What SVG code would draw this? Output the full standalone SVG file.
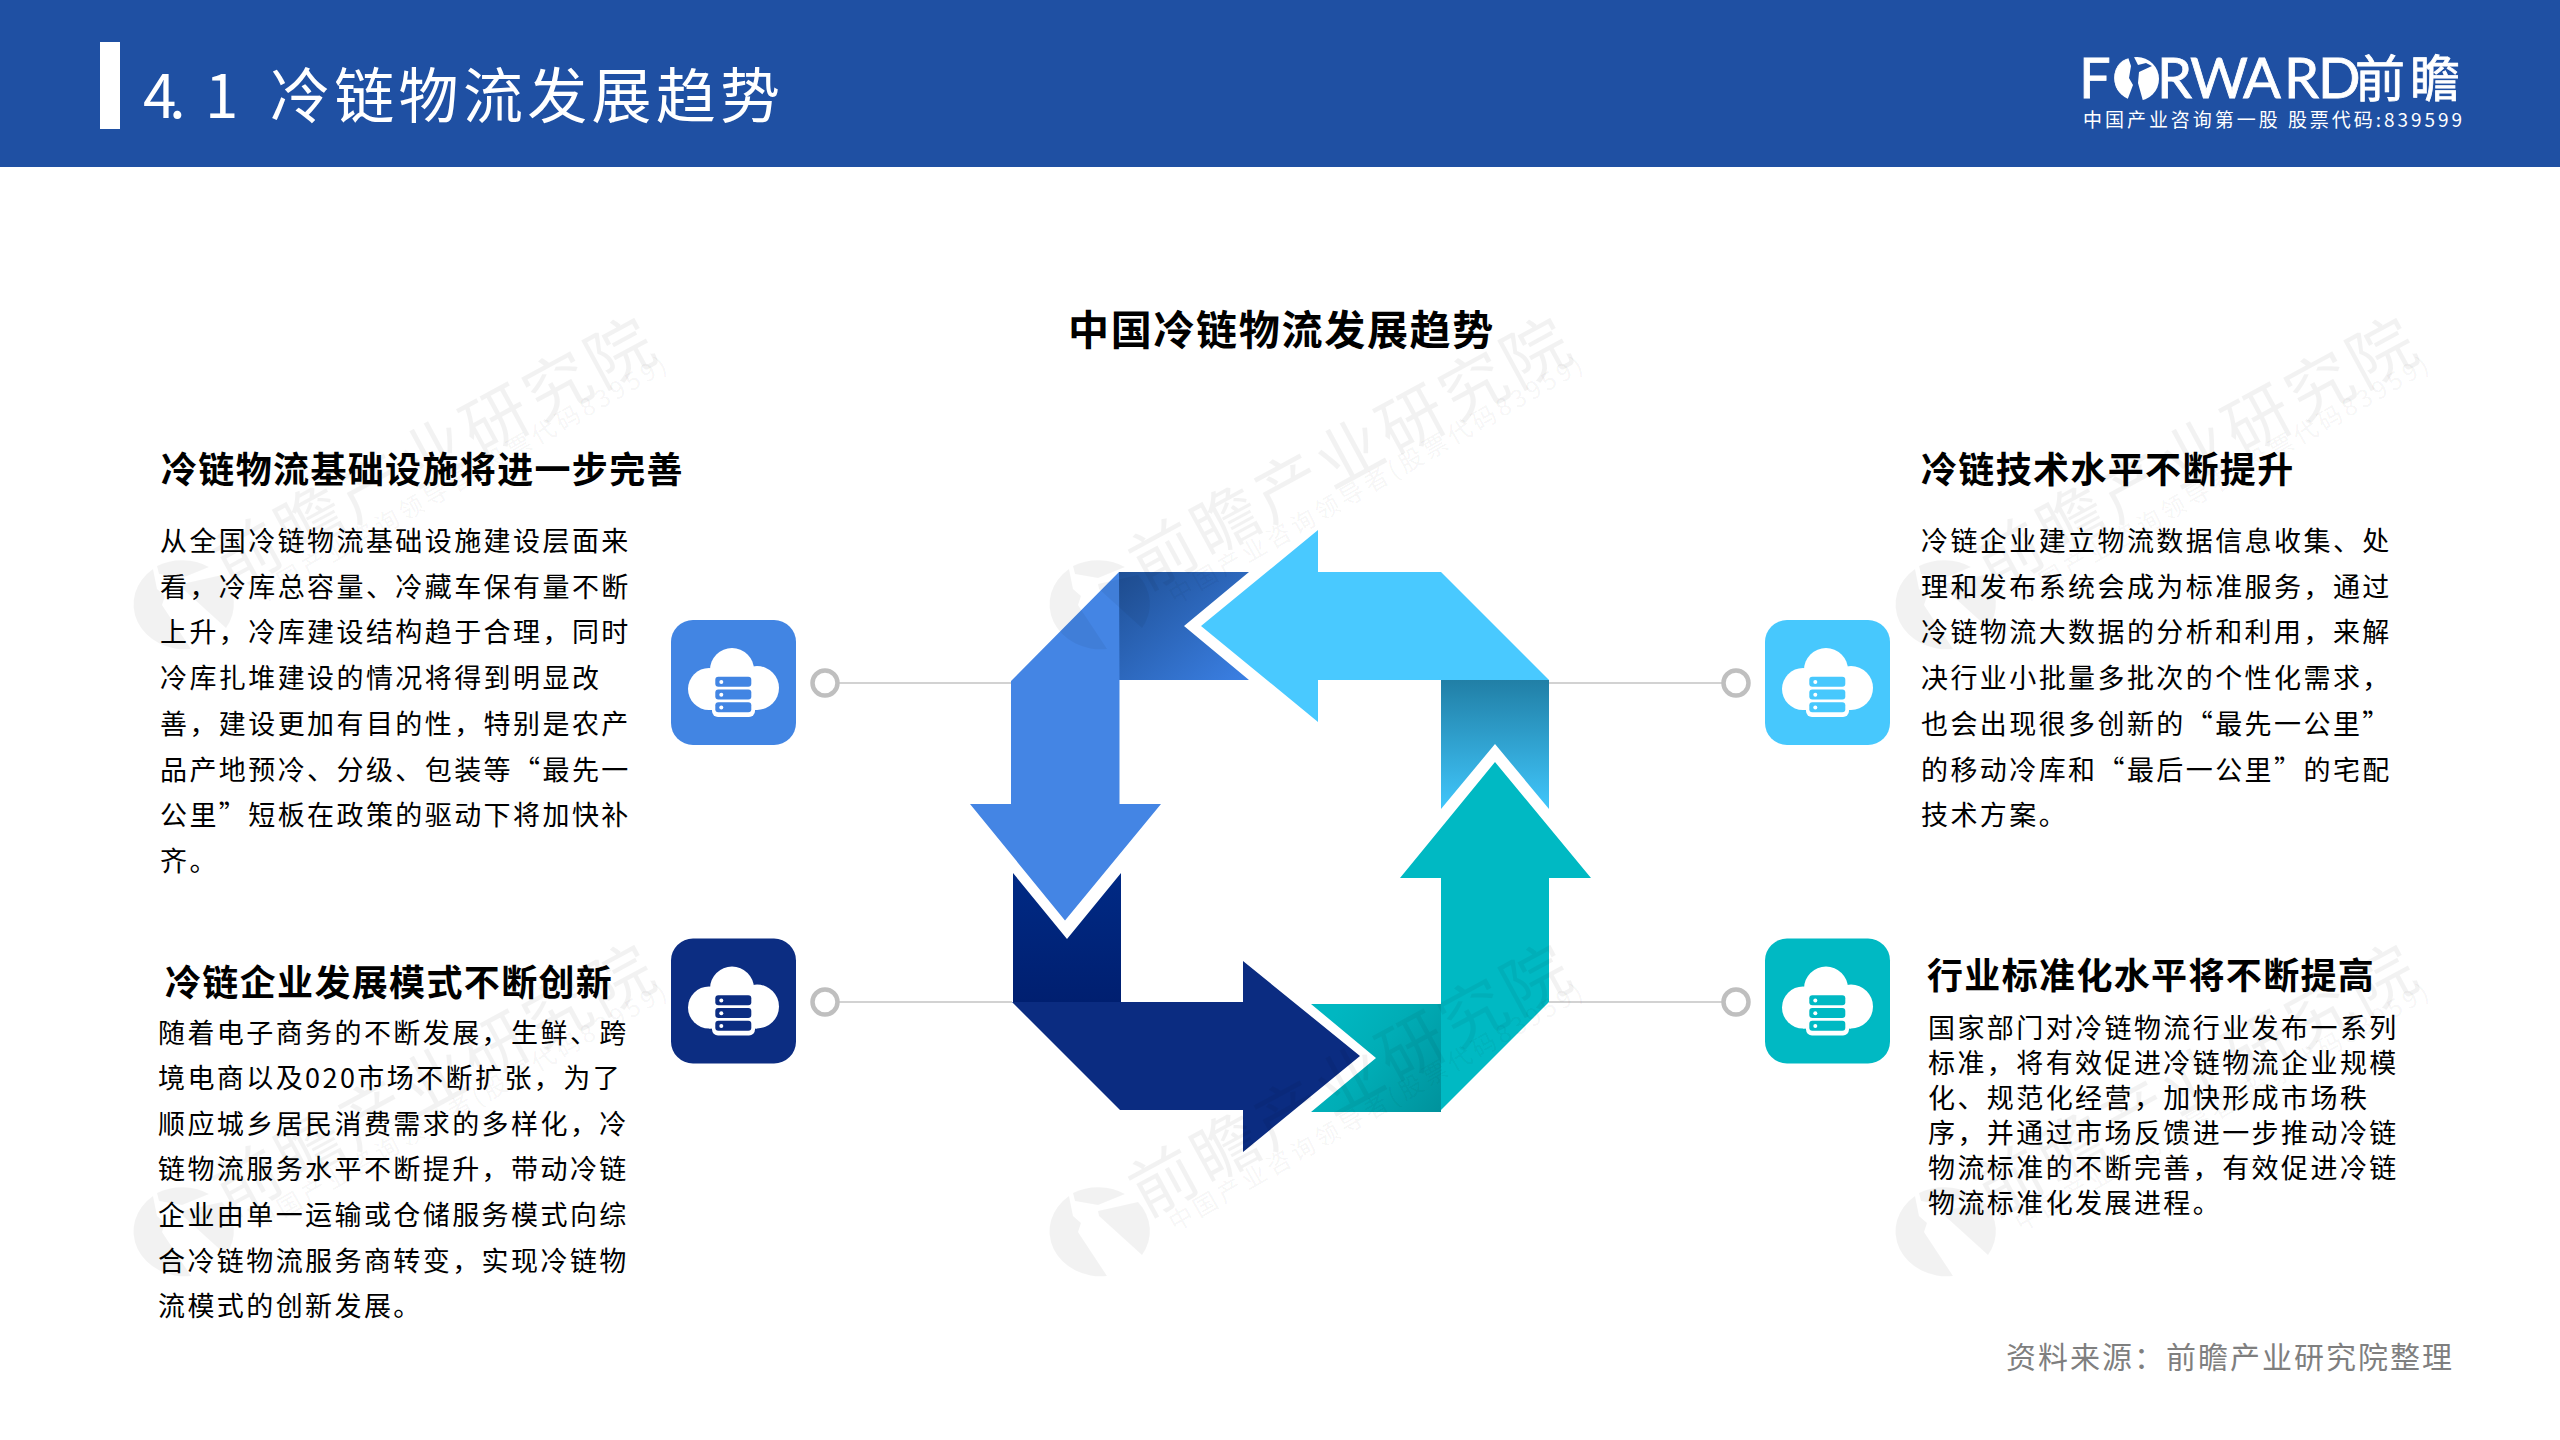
<svg xmlns="http://www.w3.org/2000/svg" width="2560" height="1440" viewBox="0 0 2560 1440">
<style>
text{font-family:"Noto Sans CJK SC","Liberation Sans",sans-serif;fill:#000}
.h{font-size:36px;font-weight:700;letter-spacing:1.35px}
.b{font-size:27px;letter-spacing:2.42px}
.wm *{fill:#000;fill-opacity:.05}
.line{stroke:#d2d2d2;stroke-width:2;fill:none}
.dot{fill:#fff;stroke:#bfbfbf;stroke-width:4.5}
</style>
<defs>
<linearGradient id="gTL" x1="0" y1="0" x2="1" y2="1"><stop offset="0" stop-color="#1f5096"/><stop offset="1" stop-color="#3b80e4"/></linearGradient>
<linearGradient id="gTR" x1="0" y1="0" x2="0" y2="1"><stop offset="0" stop-color="#217fa6"/><stop offset="1" stop-color="#40c6fb"/></linearGradient>
<linearGradient id="gBL" x1="0" y1="0" x2="0" y2="1"><stop offset="0" stop-color="#002a85"/><stop offset="1" stop-color="#001f70"/></linearGradient>
<linearGradient id="gBR" x1="1" y1="1" x2="0" y2="0.4"><stop offset="0" stop-color="#00929c"/><stop offset="0.6" stop-color="#00adb6"/><stop offset="1" stop-color="#00b7c1"/></linearGradient>
<g id="cloud">
<rect width="125" height="125" rx="22" fill="currentColor"/>
<g fill="#fff"><circle cx="61" cy="50" r="22"/><circle cx="38" cy="69" r="21"/><circle cx="86" cy="68" r="22"/><rect x="38" y="50" width="48" height="40"/><rect x="41" y="55" width="43" height="42" rx="6"/></g>
<g fill="currentColor"><rect x="44.3" y="56.7" width="36" height="10" rx="3"/><rect x="44.3" y="69.4" width="36" height="10" rx="3"/><rect x="44.3" y="82.3" width="36" height="10" rx="3"/></g>
<g fill="#fff"><circle cx="50.3" cy="62" r="2"/><circle cx="50.3" cy="74.7" r="2"/><circle cx="50.3" cy="87.5" r="2"/></g>
</g>
<g id="wmark" class="wm">
<path d="M-29,-36A51,45 0 0 0 9,44L-20,0-17,-9-25,-16Z"/>
<path d="M-25,-39A51,45 0 0 1 27,-38L0,-27-23,-31Z"/>
<path d="M40,-30A51,45 0 0 1 44,23L1,-16 0,-21Z"/>
<text transform="translate(48,-14) rotate(-28.5)" font-size="66" letter-spacing="4.5">前瞻产业研究院</text>
<text transform="translate(77,0) rotate(-29.8)" font-size="24" textLength="472" lengthAdjust="spacing">中国产业咨询领导者(股票代码83959)</text>
</g>
</defs>
<rect width="2560" height="1440" fill="#fff"/>
<g id="header">
<rect width="2560" height="167" fill="#1f50a3"/>
<rect x="100" y="42" width="20" height="87" fill="#fff"/>
<text y="118" font-size="60" letter-spacing="4.3" style="fill:#fff"><tspan x="143">4</tspan><tspan x="169">.</tspan><tspan x="205">1 </tspan><tspan x="270">冷链物流发展趋势</tspan></text>
</g>
<g id="logo">
<text y="98" style="fill:#fff;stroke:#fff;stroke-width:.8;font-family:Lato,'Noto Sans CJK SC',sans-serif" font-size="56"><tspan x="2079">F</tspan><tspan x="2112">O</tspan><tspan x="2157">R</tspan><tspan x="2190">W</tspan><tspan x="2243">A</tspan><tspan x="2284">R</tspan><tspan x="2318">D</tspan><tspan x="2355" y="97" font-size="50" letter-spacing="5">前瞻</tspan></text>
<circle cx="2137" cy="79" r="22" fill="#fff"/>
<path d="M2128,57L2131,66 2129,78 2133,85 2127,101 2143,101 2138,83 2139,72 2152,66 2146,63 2138,65 2134,57Z" fill="#1f50a3"/>
<text x="2083" y="127" font-size="19" textLength="379" lengthAdjust="spacing" style="fill:#fff">中国产业咨询第一股 股票代码:839599</text>
</g>
<text id="main-title" x="1068" y="345" font-size="41" font-weight="700" letter-spacing="1.7">中国冷链物流发展趋势</text>
<g id="connectors">
<path class="line" d="M838,683H1011M1549,683H1723M838,1002H1012M1549,1002H1723"/>
<circle class="dot" cx="825" cy="683" r="12.5"/>
<circle class="dot" cx="1736" cy="683" r="12.5"/>
<circle class="dot" cx="825" cy="1002" r="12.5"/>
<circle class="dot" cx="1736" cy="1002" r="12.5"/>
</g>
<g id="cycle">
<g id="arrow-cyan"><polygon points="1441,680 1549,680 1549,809 1495,744 1441,809" fill="url(#gTR)"/><polygon points="1201,626 1318,530 1318,572 1441,572 1549,680 1318,680 1318,722" fill="#49c9ff"/></g>
<g id="arrow-blue"><polygon points="1119,572 1249,572 1184,626 1249,680 1119,680" fill="url(#gTL)"/><polygon points="1119,572 1011,681 1011,804 970,804 1065,920.5 1161,804 1119.5,804 1119.5,680" fill="#4485e4"/></g>
<g id="arrow-navy"><polygon points="1013,873 1067,939 1121,873 1121,1002 1013,1002" fill="url(#gBL)"/><polygon points="1012,1002 1120,1110 1243,1110 1243,1152 1360,1056 1243,961 1243,1002" fill="#0b2c81"/></g>
<g id="arrow-teal"><polygon points="1311,1004 1441,1004 1441,1112 1311,1112 1376,1058" fill="url(#gBR)"/><polygon points="1495,762 1591,878 1549,878 1549,1002 1441,1110 1441,878 1400,878" fill="#00b9c3"/></g>
</g>
<g id="node-tl">
<use href="#cloud" x="671" y="620" style="color:#4285e3"/>
<text class="h" x="161" y="483">冷链物流基础设施将进一步完善</text>
<text class="b" x="160" y="551">从全国冷链物流基础设施建设层面来</text>
<text class="b" x="160" y="596.7">看，冷库总容量、冷藏车保有量不断</text>
<text class="b" x="160" y="642.4">上升，冷库建设结构趋于合理，同时</text>
<text class="b" x="160" y="688.1">冷库扎堆建设的情况将得到明显改</text>
<text class="b" x="160" y="733.8">善，建设更加有目的性，特别是农产</text>
<text class="b" x="160" y="779.5">品产地预冷、分级、包装等“最先一</text>
<text class="b" x="160" y="825.2">公里”短板在政策的驱动下将加快补</text>
<text class="b" x="160" y="870.9">齐。</text>
</g>
<g id="node-bl">
<use href="#cloud" x="671" y="938.5" style="color:#0c2d82"/>
<text class="h" x="165" y="996">冷链企业发展模式不断创新</text>
<text class="b" x="158" y="1042.5">随着电子商务的不断发展，生鲜、跨</text>
<text class="b" x="158" y="1088.1">境电商以及020市场不断扩张，为了</text>
<text class="b" x="158" y="1133.7">顺应城乡居民消费需求的多样化，冷</text>
<text class="b" x="158" y="1179.3">链物流服务水平不断提升，带动冷链</text>
<text class="b" x="158" y="1224.9">企业由单一运输或仓储服务模式向综</text>
<text class="b" x="158" y="1270.5">合冷链物流服务商转变，实现冷链物</text>
<text class="b" x="158" y="1316.1">流模式的创新发展。</text>
</g>
<g id="node-tr">
<use href="#cloud" x="1765" y="620" style="color:#47c8fd"/>
<text class="h" x="1921" y="483">冷链技术水平不断提升</text>
<text class="b" x="1921" y="551">冷链企业建立物流数据信息收集、处</text>
<text class="b" x="1921" y="596.7">理和发布系统会成为标准服务，通过</text>
<text class="b" x="1921" y="642.4">冷链物流大数据的分析和利用，来解</text>
<text class="b" x="1921" y="688.1">决行业小批量多批次的个性化需求，</text>
<text class="b" x="1921" y="733.8">也会出现很多创新的“最先一公里”</text>
<text class="b" x="1921" y="779.5">的移动冷库和“最后一公里”的宅配</text>
<text class="b" x="1921" y="825.2">技术方案。</text>
</g>
<g id="node-br">
<use href="#cloud" x="1765" y="938.5" style="color:#00b9c3"/>
<text class="h" x="1927" y="989">行业标准化水平将不断提高</text>
<text class="b" x="1928" y="1037.5">国家部门对冷链物流行业发布一系列</text>
<text class="b" x="1928" y="1072.5">标准，将有效促进冷链物流企业规模</text>
<text class="b" x="1928" y="1107.5">化、规范化经营，加快形成市场秩</text>
<text class="b" x="1928" y="1142.5">序，并通过市场反馈进一步推动冷链</text>
<text class="b" x="1928" y="1177.5">物流标准的不断完善，有效促进冷链</text>
<text class="b" x="1928" y="1212.5">物流标准化发展进程。</text>
</g>
<text id="source" x="2006" y="1368" font-size="30" letter-spacing="2" style="fill:#7f7f7f">资料来源：前瞻产业研究院整理</text>
<g id="watermarks">
<use href="#wmark" x="182" y="605"/><use href="#wmark" x="1098" y="605"/><use href="#wmark" x="1944" y="605"/>
<use href="#wmark" x="182" y="1232"/><use href="#wmark" x="1098" y="1232"/><use href="#wmark" x="1944" y="1232"/>
</g>
</svg>
